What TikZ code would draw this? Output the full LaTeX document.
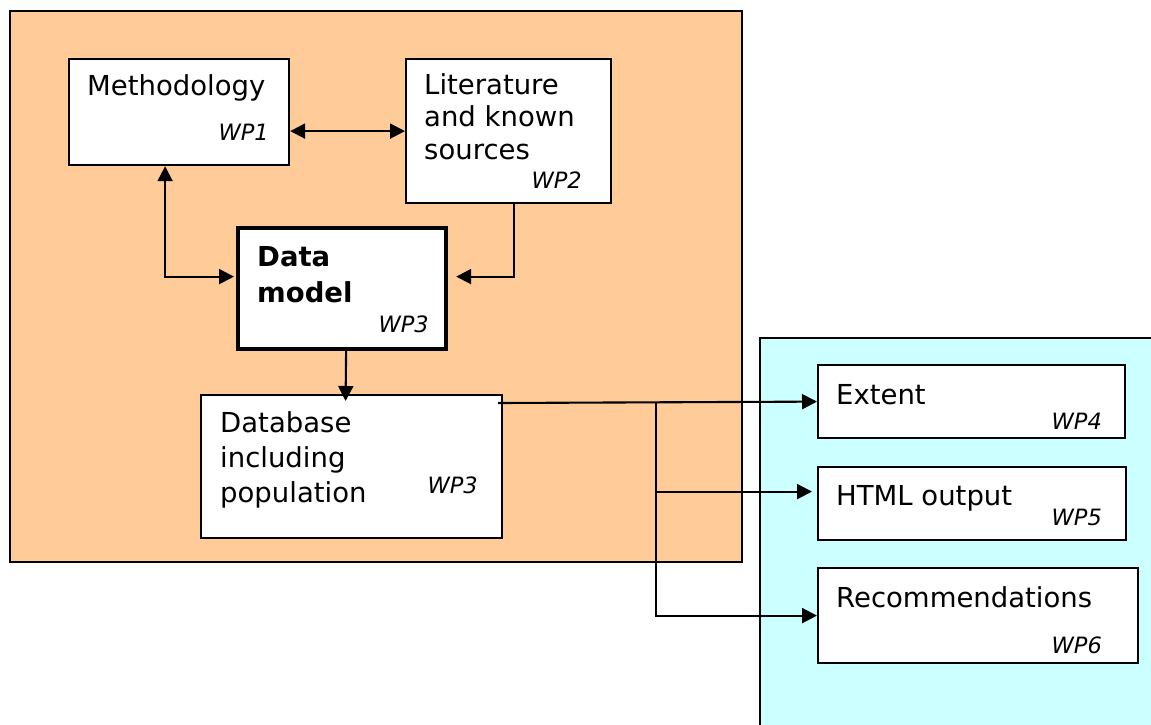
\documentclass[tikz,border=0pt]{standalone}
\usepackage{fontspec}
\setmainfont{DejaVu Sans}
\usetikzlibrary{arrows.meta,calc}
\definecolor{peach}{HTML}{FFCC99}
\definecolor{paleblue}{HTML}{CCFFFF}
\tikzset{
  box/.style={draw=black,fill=white,line width=2.2pt,anchor=north west,inner sep=0pt},
  area/.style={draw=black,line width=2pt,anchor=north west,inner sep=0pt},
  txt/.style={anchor=base west,inner sep=0pt,font=\fontsize{27.5}{32}\selectfont},
  btxt/.style={txt,font=\fontsize{27.5}{32}\selectfont\bfseries},
  wp/.style={anchor=base east,inner sep=0pt,font=\fontsize{22.5}{26}\selectfont\itshape},
  link/.style={line width=2.1pt,-{Triangle[length=15pt,width=15pt]}},
  dlink/.style={line width=2.1pt,{Triangle[length=15pt,width=15pt]}-{Triangle[length=15pt,width=15pt]}}
}
\begin{document}
\begin{tikzpicture}[x=1pt,y=-1pt]
\useasboundingbox (0,0) rectangle (1151,724);
\clip (0,0) rectangle (1151,724);

% work areas
\node[area,fill=peach,minimum width=732,minimum height=551] (core) at (9,10) {};
\node[area,fill=paleblue,minimum width=420,minimum height=420] (out) at (759,337) {};

% work package boxes
\node[box,minimum width=220,minimum height=106] (meth) at (68,58) {};
\node[box,minimum width=205,minimum height=144] (lit) at (405,58) {};
\node[box,line width=4.2pt,minimum width=208,minimum height=121] (dm) at (236,226) {};
\node[box,minimum width=301,minimum height=143] (db) at (200,394) {};
\node[box,minimum width=307,minimum height=73] (ext) at (817,364) {};
\node[box,minimum width=308,minimum height=73] (html) at (817,466) {};
\node[box,minimum width=320,minimum height=95] (rec) at (817,567) {};

% labels
\node[txt] (methA) at (87,95) {Methodology};
\node[wp] (methW) at (269,140) {WP1};
\node[txt] (litA) at (424,94) {Literature};
\node[txt] (litB) at (424,126.5) {and known};
\node[txt] (litC) at (424,159) {sources};
\node[wp] (litW) at (582,188) {WP2};
\node[btxt] (dmA) at (257,266) {Data};
\node[btxt] (dmB) at (257,302) {model};
\node[wp] (dmW) at (429,332) {WP3};
\node[txt] (dbA) at (220,432) {Database};
\node[txt] (dbB) at (220,467) {including};
\node[txt] (dbC) at (220,502) {population};
\node[wp] (dbW) at (478,493) {WP3};
\node[txt] (extA) at (836,404) {Extent};
\node[wp] (extW) at (1102,429) {WP4};
\node[txt] (htmlA) at (836,505) {HTML output};
\node[wp] (htmlW) at (1102,525) {WP5};
\node[txt] (recA) at (836,607) {Recommendations};
\node[wp] (recW) at (1102,653) {WP6};

% connectors
\draw[dlink] (meth.east |- lit.west) -- (lit.west);
\draw[dlink] ($(meth.south)+(-14,0)$) |- ($(dm.west)+(-2,-12)$);
\draw[link] ($(lit.south)+(5.5,0)$) |- ($(dm.east)+(8,-12)$);
\draw[link] ($(dm.south)+(4,0)$) -- ($(db.north)+(-6,7)$);

\coordinate (dbout) at ($(db.north east)+(-5,9)$);
\coordinate (split) at (656,403);
\draw[link] (dbout) -- (ext.west);
\draw[link] (split) |- ($(html.west)+(-5,-12)$);
\draw[link] (split) |- (rec.west);
\end{tikzpicture}
\end{document}
